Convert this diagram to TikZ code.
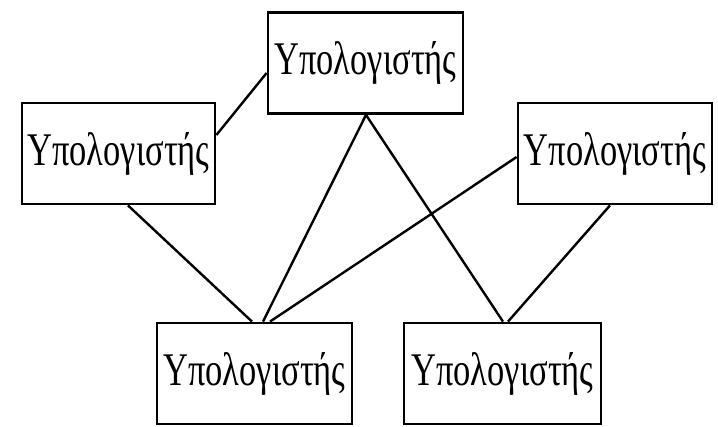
\documentclass[tikz,border=0pt]{standalone}
\usepackage{fontspec}
\setmainfont{Liberation Serif}
\usepackage{graphicx}
\newcommand{\pctext}{\resizebox{182pt}{33pt}{Υπολογιστής}}
\begin{document}
\begin{tikzpicture}[x=1pt,y=-1pt,
  pcbox/.style={draw, line width=2.8pt, inner sep=0pt, minimum height=101pt},
  link/.style={line width=2.4pt}]
\useasboundingbox (0,0) rectangle (718,426);
\node[pcbox, minimum width=195pt] (top) at (365.5,63) {\pctext};
\node[pcbox, minimum width=193pt] (left) at (118.5,153.5) {\pctext};
\node[pcbox, minimum width=194pt] (right) at (615,153.5) {\pctext};
\node[pcbox, minimum width=195pt] (botl) at (254.5,373.5) {\pctext};
\node[pcbox, minimum width=197pt] (botr) at (502.5,373.5) {\pctext};
\draw[link] ([yshift=18.5pt]left.east) -- ([yshift=-10pt]top.west);
\draw[link] ([xshift=9.5pt]left.south) -- ([xshift=-2.5pt]botl.north);
\draw[link] ([xshift=0.5pt]top.south) -- ([xshift=8.5pt]botl.north);
\draw[link] ([xshift=0.5pt]top.south) -- ([xshift=0.5pt]botr.north);
\draw[link] ([yshift=-3.5pt]right.west) -- ([xshift=15.5pt]botl.north);
\draw[link] ([xshift=-5pt]right.south) -- ([xshift=5.5pt]botr.north);
\end{tikzpicture}
\end{document}
